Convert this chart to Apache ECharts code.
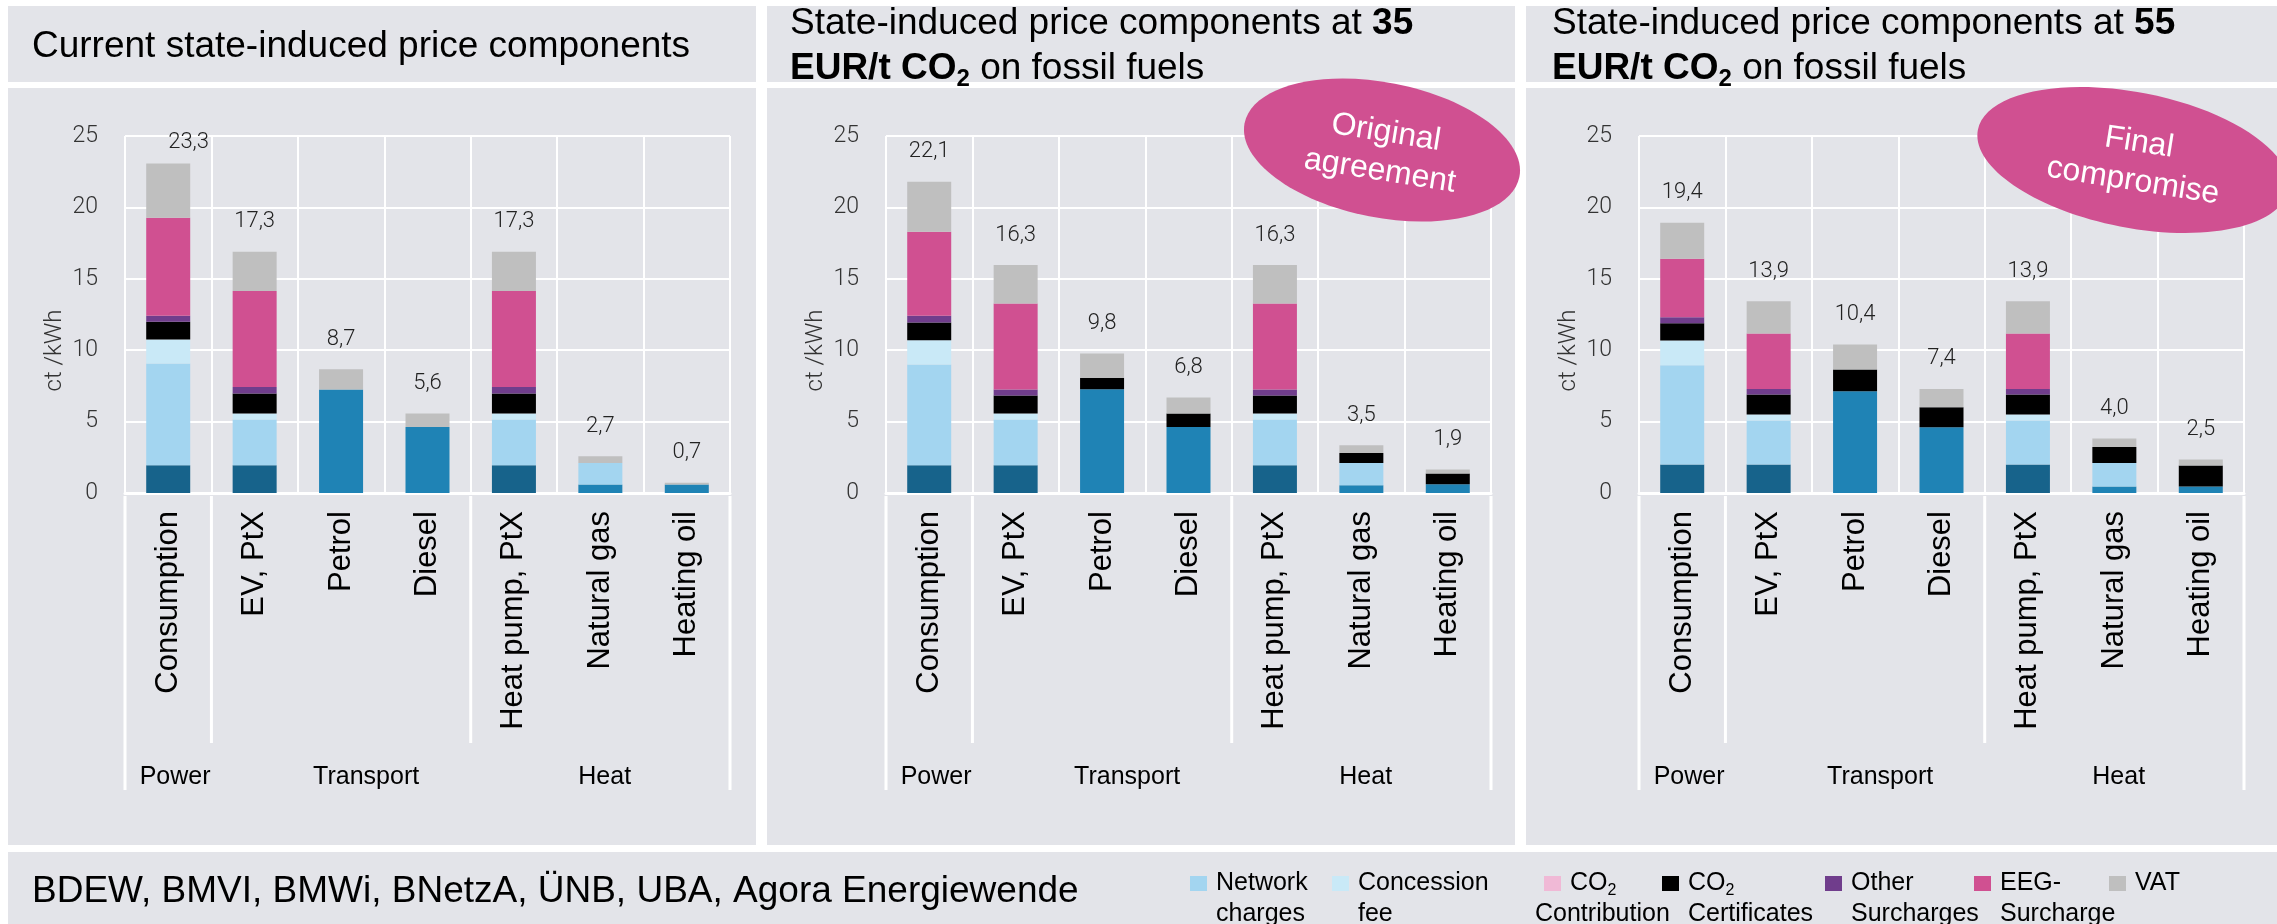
<!DOCTYPE html>
<html>
<head>
<meta charset="utf-8">
<script src="https://cdn.jsdelivr.net/npm/echarts@6/dist/echarts.min.js"></script>
<style>
  html, body { margin: 0; padding: 0; background: #fff; }
  #main { width: 2277px; height: 924px; }
</style>
</head>
<body>
<div id="main"></div>
<script>
const categories = ['Consumption', 'EV, PtX', 'Petrol', 'Diesel', 'Heat pump, PtX', 'Natural gas', 'Heating oil'];
const sectors = ['Power', 'Transport', 'Heat'];
const sectorFirst = [0, 1, 4];
const sectorLast = [0, 3, 6];

// rows: current, 35 EUR/t CO2, 55 EUR/t CO2   (ct/kWh)
const electricityTax = [
  [1.95, 1.95, 0, 0, 1.95, 0, 0],
  [1.95, 1.95, 0, 0, 1.95, 0, 0],
  [1.99, 1.99, 0, 0, 1.99, 0, 0]
];
const energyTax = [
  [0, 0, 7.24, 4.63, 0, 0.6, 0.6],
  [0, 0, 7.27, 4.63, 0, 0.54, 0.61],
  [0, 0, 7.13, 4.6, 0, 0.45, 0.45]
];
const networkCharges = [
  [7.12, 3.19, 0, 0, 3.19, 1.5, 0],
  [7.05, 3.19, 0, 0, 3.19, 1.56, 0],
  [6.96, 3.08, 0, 0, 3.08, 1.65, 0]
];
const concessionFee = [
  [1.68, 0.42, 0, 0, 0.42, 0, 0],
  [1.7, 0.42, 0, 0, 0.42, 0, 0],
  [1.73, 0.42, 0, 0, 0.42, 0, 0]
];
const co2Contribution = [
  [0, 0, 0, 0, 0, 0, 0],
  [0, 0, 0, 0, 0, 0, 0],
  [0, 0, 0, 0, 0, 0, 0]
];
const co2Certificates = [
  [1.24, 1.4, 0, 0, 1.4, 0, 0],
  [1.24, 1.26, 0.79, 0.93, 1.26, 0.7, 0.75],
  [1.21, 1.4, 1.51, 1.4, 1.4, 1.12, 1.47]
];
const otherSurcharges = [
  [0.42, 0.47, 0, 0, 0.47, 0, 0],
  [0.47, 0.42, 0, 0, 0.42, 0, 0],
  [0.42, 0.4, 0, 0, 0.4, 0, 0]
];
const eegSurcharge = [
  [6.87, 6.71, 0, 0, 6.71, 0, 0],
  [5.88, 6.03, 0, 0, 6.03, 0, 0],
  [4.09, 3.88, 0, 0, 3.88, 0, 0]
];
const vat = [
  [3.8, 2.75, 1.43, 0.93, 2.75, 0.47, 0.12],
  [3.51, 2.69, 1.71, 1.12, 2.69, 0.54, 0.28],
  [2.53, 2.26, 1.76, 1.29, 2.26, 0.59, 0.42]
];
const totals = [
  [23.3, 17.3, 8.7, 5.6, 17.3, 2.7, 0.7],
  [22.1, 16.3, 9.8, 6.8, 16.3, 3.5, 1.9],
  [19.4, 13.9, 10.4, 7.4, 13.9, 4.0, 2.5]
];

const componentNames = ['Electricity tax', 'Energy tax', 'Network charges', 'Concession fee', 'CO2 Contribution',
  'CO2 Certificates', 'Other Surcharges', 'EEG-Surcharge', 'VAT'];
const components = [electricityTax, energyTax, networkCharges, concessionFee, co2Contribution,
  co2Certificates, otherSurcharges, eegSurcharge, vat];
const componentColors = ['#17638b', '#1f83b5', '#a3d5f0', '#c9e9f7', '#f0b9d6', '#000000', '#703d8c', '#d05091', '#bfbfbf'];

const legendNames = componentNames.slice(2);
const legendLabels = ['Network\ncharges', 'Concession\nfee', '{sp| }CO{sub|2}\nContribution', 'CO{sub|2}\nCertificates',
  'Other\nSurcharges', 'EEG-\nSurcharge', 'VAT\n '];
const legendLeft = [1190, 1332, 1535, 1662, 1825, 1974, 2109];
const legendTextShift = [4, 4, -31, 4, 4, 4, 4];

const titleTexts = [
  'Current state-induced price components',
  '{n|State-induced price components at }{b|35}\n{b|EUR/t CO}{bs|2}{n| on fossil fuels}',
  '{n|State-induced price components at }{b|55}\n{b|EUR/t CO}{bs|2}{n| on fossil fuels}'
];
const sourceText = 'BDEW, BMVI, BMWi, BNetzA, ÜNB, UBA, Agora Energiewende';
const badgeTexts = ['Original\nagreement', 'Final\ncompromise'];
const unitText = 'ct /kWh';

const FONT = 'Liberation Sans';
const NUMFONT = 'Roboto';
const panelBg = '#e3e4e9';
const gridLeft = [125, 886, 1639];
const panelLeft = [8, 767, 1526];
const panelWidth = [748, 748, 751];
const titleLeft = [32, 790, 1552];
const titleTop = [24, 1, 1];
const sectorShift = [0.08, 0.29, 0.05];

const fmt = v => v.toFixed(1).replace('.', ',');

const titleRich = {
  n: { fontSize: 37, fontFamily: FONT, fontWeight: 'normal', color: '#000', lineHeight: 45 },
  b: { fontSize: 37, fontFamily: FONT, fontWeight: 'bold', color: '#000', lineHeight: 45 },
  bs: { fontSize: 24, fontFamily: FONT, fontWeight: 'bold', color: '#000', lineHeight: 45, verticalAlign: 'bottom' }
};

const grids = [], xAxes = [], yAxes = [], series = [], titles = [];
for (let p = 0; p < 3; p++) {
  grids.push({ left: gridLeft[p], top: 136, width: 605, height: 357 });
  xAxes.push({
    type: 'category', gridIndex: p, data: categories,
    axisLine: { lineStyle: { color: '#fff', width: 3 } },
    axisTick: { show: false },
    axisLabel: { rotate: 90, interval: 0, margin: 18, fontSize: 31, fontFamily: FONT, color: '#000' },
    splitLine: { show: true, lineStyle: { color: '#fff', width: 2 } }
  });
  yAxes.push({
    type: 'value', gridIndex: p, min: 0, max: 25, interval: 5,
    axisLine: { show: false }, axisTick: { show: false },
    axisLabel: { margin: 27, fontSize: 23, fontFamily: NUMFONT, fontWeight: 300, color: '#333' },
    splitLine: { lineStyle: { color: '#fff', width: 2 } }
  });
  components.forEach((rows, c) => {
    const s = {
      type: 'bar', name: componentNames[c], xAxisIndex: p, yAxisIndex: p,
      stack: 'panel' + p, barWidth: 44,
      itemStyle: { color: componentColors[c] },
      data: rows[p]
    };
    if (c === components.length - 1) {
      s.label = {
        show: true, position: 'top', distance: 19,
        fontSize: 22, fontFamily: NUMFONT, fontWeight: 300, color: '#222',
        formatter: d => fmt(totals[p][d.dataIndex])
      };
      // keep the highest total just inside the plot
      s.labelLayout = params => (params.labelRect.y < 131 ? { y: 131, verticalAlign: 'top' } : {});
    }
    series.push(s);
  });
  titles.push({
    text: titleTexts[p], left: titleLeft[p], top: titleTop[p], padding: 0,
    textStyle: { fontSize: 37, fontFamily: FONT, fontWeight: 'normal', color: '#000', lineHeight: 45, rich: titleRich }
  });
}
titles.push({
  text: sourceText, left: 32, top: 869, padding: 0,
  textStyle: { fontSize: 37, fontFamily: FONT, fontWeight: 'normal', color: '#000', lineHeight: 45 }
});

const legends = legendNames.map((name, i) => ({
  data: [name], left: legendLeft[i], top: 868, padding: 0,
  itemWidth: 17, itemHeight: 46, icon: 'path://M0,0H17V15H0ZM0,46',
  selectedMode: false,
  formatter: () => legendLabels[i],
  textStyle: {
    fontSize: 25, fontFamily: FONT, color: '#000', lineHeight: 31, padding: [0, 0, 0, legendTextShift[i]],
    rich: {
      sub: { fontSize: 16, fontFamily: FONT, color: '#000', verticalAlign: 'bottom' },
      sp: { fontSize: 25, fontFamily: FONT, width: 35 }
    }
  }
}));

const chart = echarts.init(document.getElementById('main'));
chart.setOption({
  backgroundColor: '#fff',
  animation: false,
  title: titles,
  legend: legends,
  grid: grids,
  xAxis: xAxes,
  yAxis: yAxes,
  series: series
});

// panels, badges, unit names and the sector bands under the axes
const graphics = [];
for (let p = 0; p < 3; p++) {
  graphics.push({ type: 'rect', z: -100, shape: { x: panelLeft[p], y: 6, width: panelWidth[p], height: 76 }, style: { fill: panelBg } });
  graphics.push({ type: 'rect', z: -100, shape: { x: panelLeft[p], y: 88, width: panelWidth[p], height: 757 }, style: { fill: panelBg } });
}
graphics.push({ type: 'rect', z: -100, shape: { x: 8, y: 852, width: 2269, height: 72 }, style: { fill: panelBg } });

const badges = [
  { x: 1382, y: 150, rx: 140, ry: 67.6, tx: 1383, ty: 152 },
  { x: 2133, y: 160, rx: 158, ry: 67.7, tx: 2136, ty: 162 }
];
badges.forEach((b, i) => {
  graphics.push({ type: 'ellipse', z: 100, x: b.x, y: b.y, rotation: -11 * Math.PI / 180,
    shape: { cx: 0, cy: 0, rx: b.rx, ry: b.ry }, style: { fill: '#d05091' } });
  graphics.push({ type: 'text', z: 101, x: b.tx, y: b.ty, rotation: -9 * Math.PI / 180,
    style: { text: badgeTexts[i], fill: '#fff', fontSize: 32, fontFamily: FONT, lineHeight: 39,
      align: 'center', verticalAlign: 'middle' } });
});

for (let p = 0; p < 3; p++) {
  const c0 = chart.convertToPixel({ xAxisIndex: p }, 0);
  const c1 = chart.convertToPixel({ xAxisIndex: p }, 1);
  const band = c1 - c0;
  const edge = i => c0 + (i - 0.5) * band;
  const axisY = chart.convertToPixel({ yAxisIndex: p }, 0);
  const midY = chart.convertToPixel({ yAxisIndex: p }, 12.5);
  graphics.push({ type: 'text', z: 5, x: edge(0) - 70, y: midY + 36, rotation: Math.PI / 2,
    style: { text: unitText, fill: '#333', fontSize: 24, fontFamily: NUMFONT, fontWeight: 300,
      align: 'center', verticalAlign: 'middle' } });
  const lineTop = axisY + 3;
  const bounds = [0, 1, 4, 7];
  bounds.forEach((b, k) => {
    const outer = k === 0 || k === bounds.length - 1;
    graphics.push({ type: 'line', z: 5,
      shape: { x1: edge(b), y1: lineTop, x2: edge(b), y2: axisY + (outer ? 297 : 250) },
      style: { stroke: '#fff', lineWidth: 3 } });
  });
  sectors.forEach((name, s) => {
    const cx = (edge(sectorFirst[s]) + edge(sectorLast[s] + 1)) / 2 + sectorShift[s] * band;
    graphics.push({ type: 'text', z: 5, x: cx, y: axisY + 284,
      style: { text: name, fill: '#000', fontSize: 25, fontFamily: FONT, align: 'center', verticalAlign: 'middle' } });
  });
}

chart.setOption({ graphic: { elements: graphics } });
</script>
</body>
</html>
